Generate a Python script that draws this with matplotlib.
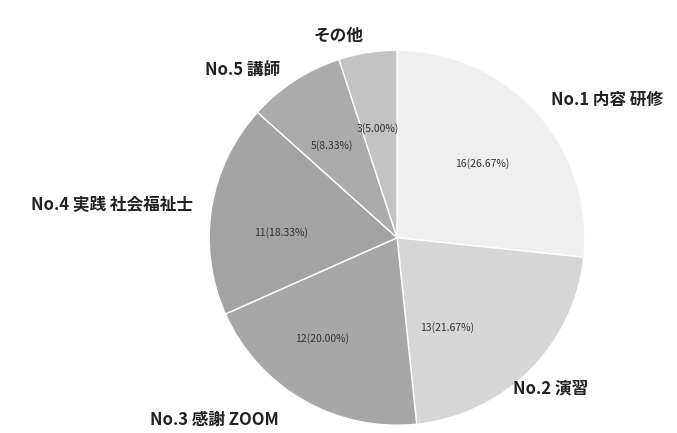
import numpy as np
import matplotlib.pyplot as plt

plt.rcParams['font.family'] = ['Noto Sans CJK JP', 'DejaVu Sans']

labels = ['No.1 内容 研修', 'No.2 演習', 'No.3 感謝 ZOOM',
          'No.4 実践 社会福祉士', 'No.5 講師', 'その他']
counts = [16, 13, 12, 11, 5, 3]
colors = ['#efefef', '#d6d6d6', '#a7a7a7', '#a3a3a3', '#ababab', '#c3c3c3']

# per-slice nudges for the outer labels and the value labels (degrees, radius)
label_shift = [0, -7.5, -3, 0, 1.7, 0.5]
label_r = [1.1, 1.01, 1.16, 1.1, 1.09, 1.09]
pct_shift = [-1, -16, -6.7, 6.5, 2, 1]
pct_r = [0.6, 0.55, 0.67, 0.62, 0.6, 0.59]

total = sum(counts)


def fmt(pct):
    n = int(round(pct * total / 100))
    return '{}({:.2f}%)'.format(n, pct)


fig = plt.figure(figsize=(6.77, 4.33), dpi=100)
ax = fig.add_axes([0.309, 0.018, 0.555, 0.866])

wedges, texts, autotexts = ax.pie(
    counts, labels=labels, colors=colors, startangle=90, counterclock=False,
    autopct=fmt, pctdistance=0.6, labeldistance=1.1,
    wedgeprops=dict(edgecolor='white', linewidth=1),
    textprops=dict(fontsize=12, color='#222222'))

for i, w in enumerate(wedges):
    mid = (w.theta1 + w.theta2) / 2
    a = np.deg2rad(mid + label_shift[i])
    texts[i].set_position((label_r[i] * np.cos(a), label_r[i] * np.sin(a)))
    texts[i].set_fontweight('bold')
    a = np.deg2rad(mid + pct_shift[i])
    autotexts[i].set_position((pct_r[i] * np.cos(a), pct_r[i] * np.sin(a)))
    autotexts[i].set_fontsize(7.5)
    autotexts[i].set_color('#333333')

ax.set_xlim(-1, 1)
ax.set_ylim(-1, 1)
ax.set_aspect('auto')

fig.savefig('out.png', dpi=100)
